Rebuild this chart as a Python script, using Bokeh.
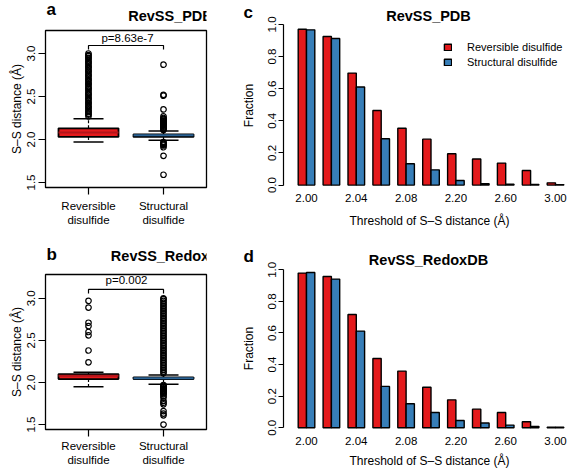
import math
from bokeh.plotting import figure
from bokeh.layouts import row, column
from bokeh.models import ColumnDataSource, Label, Legend, LegendItem, FixedTicker, Range1d
from bokeh.embed import file_html
from bokeh.resources import INLINE

FONT = "Liberation Sans"
RED = "#E41A1C"
BLUE = "#377EB8"
MED_COLORS = ["#B3151A", "#2B6395"]

# ---------------- box plot data ----------------
box_labels = ["Reversible\ndisulfide", "Structural\ndisulfide"]
box_colors = [RED, BLUE]
y_ticks_box = [1.5, 2.0, 2.5, 3.0]
y_tick_labels_box = ["1.5", "2.0", "2.5", "3.0"]

# RevSS_PDB
pdb_q1 = [2.03, 2.03]
pdb_median = [2.08, 2.05]
pdb_q3 = [2.13, 2.06]
pdb_whisker_low = [1.97, 1.99]
pdb_whisker_high = [2.24, 2.10]
pdb_out_rev = [2.27, 2.29, 2.30, 2.32, 2.33, 2.35, 2.37, 2.38, 2.40, 2.42, 2.43, 2.45,
               2.47, 2.48, 2.50, 2.52, 2.53, 2.55, 2.57, 2.59, 2.60, 2.62, 2.64, 2.65,
               2.67, 2.69, 2.70, 2.72, 2.74, 2.75, 2.77, 2.79, 2.80, 2.82, 2.84, 2.85,
               2.87, 2.89, 2.90, 2.92, 2.94, 2.95, 2.97, 2.98, 3.00]
pdb_out_str = [2.87, 2.52, 2.51, 2.35, 2.27, 2.25, 2.24, 2.23, 2.22, 2.21, 2.20, 2.19,
               2.18, 2.17, 2.16, 2.15, 2.14, 2.13, 2.12, 2.11, 1.97, 1.96, 1.95, 1.94,
               1.93, 1.91, 1.81, 1.59]
pdb_pvalue = "p=8.63e-7"
pdb_bracket = [3.047, 3.093]

# RevSS_RedoxDB
redox_q1 = [2.04, 2.04]
redox_median = [2.08, 2.05]
redox_q3 = [2.10, 2.06]
redox_whisker_low = [1.95, 1.98]
redox_whisker_high = [2.12, 2.09]
redox_out_rev = [2.97, 2.89, 2.71, 2.67, 2.60, 2.56, 2.38, 2.24]
redox_out_str = [2.11, 2.13, 2.15, 2.17, 2.19, 2.21, 2.23, 2.25, 2.27, 2.29, 2.31, 2.33,
                 2.35, 2.37, 2.39, 2.41, 2.43, 2.45, 2.47, 2.49, 2.51, 2.53, 2.55, 2.57,
                 2.59, 2.61, 2.63, 2.65, 2.67, 2.69, 2.71, 2.73, 2.75, 2.77, 2.79, 2.81,
                 2.83, 2.85, 2.87, 2.89, 2.91, 2.93, 2.95, 2.97, 2.99, 3.00,
                 1.97, 1.96, 1.95, 1.94, 1.93, 1.92, 1.91, 1.90, 1.89, 1.88, 1.87, 1.86,
                 1.84, 1.82, 1.78, 1.76, 1.74, 1.66, 1.63, 1.61, 1.50]
redox_pvalue = "p=0.002"
redox_bracket = [3.059, 3.106]

# ---------------- bar chart data ----------------
thresholds = ["2.00", "2.02", "2.04", "2.06", "2.08", "2.10", "2.20", "2.40", "2.60", "2.80", "3.00"]
series_names = ["Reversible disulfide", "Structural disulfide"]
pdb_frac_rev = [0.970, 0.925, 0.697, 0.464, 0.354, 0.286, 0.195, 0.162, 0.137, 0.091, 0.014]
pdb_frac_str = [0.966, 0.912, 0.610, 0.288, 0.133, 0.095, 0.029, 0.008, 0.005, 0.004, 0.003]
redox_frac_rev = [0.979, 0.958, 0.717, 0.439, 0.359, 0.257, 0.177, 0.118, 0.097, 0.038, 0.003]
redox_frac_str = [0.983, 0.941, 0.612, 0.262, 0.152, 0.097, 0.046, 0.030, 0.017, 0.008, 0.003]
y_ticks_bar = [0.0, 0.2, 0.4, 0.6, 0.8, 1.0]
y_tick_labels_bar = ["0.0", "0.2", "0.4", "0.6", "0.8", "1.0"]

V = math.pi / 2
YLAB = "S\u2013S distance (\u00c5)"
XLAB = "Threshold of S\u2013S distance (\u00c5)"


def frame_text(p, x, y, text, size, bold=False, align="center", baseline="middle", angle=0.0):
    # x, y: pixels from the frame's left / bottom edge
    p.add_layout(Label(x=x, y=y, x_units="screen", y_units="screen",
                       text=text, text_font=FONT, text_font_size=size,
                       text_font_style="bold" if bold else "normal", text_color="black",
                       text_align=align, text_baseline=baseline, angle=angle))


def style_axes(p):
    p.xgrid.visible = False
    p.ygrid.visible = False
    p.background_fill_color = "white"
    p.border_fill_color = "white"
    for ax in (p.xaxis[0], p.yaxis[0]):
        ax.major_label_text_font = FONT
        ax.major_label_text_color = "black"
        ax.minor_tick_line_color = None
        ax.major_tick_in = 0
        ax.major_tick_line_color = "black"
        ax.major_tick_line_width = 1.2
        ax.axis_line_color = None


def header(width, height, texts):
    p = figure(width=width, height=height, output_backend="svg", toolbar_location=None,
               x_range=Range1d(0, width), y_range=Range1d(0, height),
               x_axis_location=None, y_axis_location=None,
               min_border=0, min_border_left=0, min_border_right=0,
               min_border_top=0, min_border_bottom=0)
    p.xgrid.visible = False
    p.ygrid.visible = False
    p.outline_line_color = None
    p.background_fill_color = "white"
    p.border_fill_color = "white"
    for t in texts:
        frame_text(p, *t)
    return p


def box_body(width, height, borders, y_range, q1, med, q3, wlo, whi, out_rev, out_str,
             bracket, pval_pos, pval, label_standoff):
    left, right, top, bottom = borders
    p = figure(width=width, height=height, output_backend="svg", toolbar_location=None,
               x_range=Range1d(0.4267, 2.573), y_range=Range1d(*y_range),
               min_border_left=left, min_border_right=right, min_border_top=top,
               min_border_bottom=bottom)
    style_axes(p)
    p.outline_line_color = "black"
    p.outline_line_width = 1.3
    cats = [i + 1 for i in range(len(box_labels))]
    src = ColumnDataSource(dict(x=cats, left=[c - 0.4 for c in cats], right=[c + 0.4 for c in cats],
                                capl=[c - 0.2 for c in cats], capr=[c + 0.2 for c in cats],
                                q1=q1, med=med, q3=q3, wlo=wlo, whi=whi,
                                color=box_colors, medcolor=MED_COLORS))
    p.segment(x0="x", y0="q3", x1="x", y1="whi", source=src, line_color="black", line_width=1.2, line_dash="3 2")
    p.segment(x0="x", y0="q1", x1="x", y1="wlo", source=src, line_color="black", line_width=1.2, line_dash="3 2")
    p.segment(x0="capl", y0="whi", x1="capr", y1="whi", source=src, line_color="black", line_width=1.5)
    p.segment(x0="capl", y0="wlo", x1="capr", y1="wlo", source=src, line_color="black", line_width=1.5)
    p.quad(left="left", right="right", bottom="q1", top="q3", source=src,
           fill_color="color", line_color="black", line_width=1.8)
    p.segment(x0="left", y0="med", x1="right", y1="med", source=src, line_color="medcolor", line_width=2)
    p.scatter(x=[cats[0]] * len(out_rev), y=out_rev, marker="circle", size=5.5,
              fill_color=None, line_color="black", line_width=1.2)
    p.scatter(x=[cats[1]] * len(out_str), y=out_str, marker="circle", size=5.5,
              fill_color=None, line_color="black", line_width=1.2)
    p.line(x=[cats[0], cats[0], cats[1], cats[1]], y=[bracket[0], bracket[1], bracket[1], bracket[0]],
           line_color="black", line_width=1.2)
    frame_text(p, pval_pos[0], pval_pos[1], pval, "11.5px")
    p.xaxis.ticker = FixedTicker(ticks=cats)
    p.xaxis.major_label_overrides = {c: lab for c, lab in zip(cats, box_labels)}
    p.xaxis.major_tick_out = 7
    p.xaxis.major_label_standoff = label_standoff
    p.xaxis.major_label_text_font_size = "11.5px"
    p.yaxis.ticker = FixedTicker(ticks=y_ticks_box)
    p.yaxis.major_label_overrides = {t: lab for t, lab in zip(y_ticks_box, y_tick_labels_box)}
    p.yaxis.major_tick_out = 7
    p.yaxis.major_label_standoff = 3
    p.yaxis.major_label_orientation = "vertical"
    p.yaxis.major_label_text_font_size = "11.5px"
    p.yaxis.axis_label = YLAB
    p.yaxis.axis_label_text_font = FONT
    p.yaxis.axis_label_text_font_size = "12px"
    p.yaxis.axis_label_text_font_style = "normal"
    p.yaxis.axis_label_text_color = "black"
    p.yaxis.axis_label_standoff = 1
    return p


def bar_panel(width, height, x_range, y_range, axis_x, rev, strc, origin, texts, legend):
    p = figure(width=width, height=height, output_backend="svg", toolbar_location=None,
               x_range=Range1d(*x_range), y_range=Range1d(*y_range),
               min_border=0, min_border_left=0, min_border_right=0,
               min_border_top=0, min_border_bottom=0)
    style_axes(p)
    p.outline_line_color = None
    n = len(thresholds)
    src = ColumnDataSource(dict(xr=[3 * i + 1.5 for i in range(n)], xs=[3 * i + 2.5 for i in range(n)],
                                rev=rev, strc=strc))
    r1 = p.vbar(x="xr", top="rev", bottom=0, width=1.0, source=src, fill_color=RED,
                line_color="black", line_width=1.4)
    r2 = p.vbar(x="xs", top="strc", bottom=0, width=1.0, source=src, fill_color=BLUE,
                line_color="black", line_width=1.4)
    centers = [3 * i + 2 for i in range(0, n, 2)]
    p.xaxis.fixed_location = 0
    p.xaxis.ticker = FixedTicker(ticks=centers)
    p.xaxis.major_label_overrides = {3 * i + 2: thresholds[i] for i in range(0, n, 2)}
    p.xaxis.major_tick_line_color = None
    p.xaxis.major_tick_out = 0
    p.xaxis.major_label_standoff = 9
    p.xaxis.major_label_text_font_size = "11.5px"
    p.yaxis.fixed_location = axis_x
    p.yaxis.ticker = FixedTicker(ticks=y_ticks_bar)
    p.yaxis.major_label_overrides = {t: lab for t, lab in zip(y_ticks_bar, y_tick_labels_bar)}
    p.yaxis.bounds = (0, 1)
    p.yaxis.axis_line_color = "black"
    p.yaxis.axis_line_width = 1.2
    p.yaxis.major_tick_out = 5
    p.yaxis.major_label_standoff = 2
    p.yaxis.major_label_orientation = "vertical"
    p.yaxis.major_label_text_font_size = "11.5px"
    if legend:
        lg = Legend(items=[LegendItem(label=series_names[0], renderers=[r1]),
                           LegendItem(label=series_names[1], renderers=[r2])],
                    location=(228, 162), padding=0, margin=0, spacing=3,
                    glyph_width=9, glyph_height=8, label_height=12, label_standoff=15,
                    label_text_font=FONT, label_text_font_size="11px", label_text_color="black",
                    border_line_color=None, background_fill_alpha=0)
        p.add_layout(lg)
    ox, oy = origin
    for (px, py, *rest) in texts:
        frame_text(p, px - ox, oy + height - py, *rest)
    return p


# ----- panel a: header (page y 0-29) + body (page y 29-230), frame 45..206 x 30..187
head_a = header(215, 29, [(1, 20, "a", "17px", True, "left", "alphabetic"),
                          (125, 14, "RevSS_PDB", "14.5px", True)])
body_a = box_body(215, 201, (45, 9, 1, 43), (1.4419, 3.2674),
                  pdb_q1, pdb_median, pdb_q3, pdb_whisker_low, pdb_whisker_high,
                  pdb_out_rev, pdb_out_str, pdb_bracket, (82, 150), pdb_pvalue, 5)

# ----- panel b: header (page y 230-273) + body (page y 273-468), frame 45..206 x 274..430
head_b = header(215, 43, [(1, 19, "b", "17px", True, "left", "alphabetic"),
                          (125, 18, "RevSS_RedoxDB", "14.5px", True)])
body_b = box_body(215, 195, (45, 9, 1, 38), (1.4409, 3.2835),
                  redox_q1, redox_median, redox_q3, redox_whisker_low, redox_whisker_high,
                  redox_out_rev, redox_out_str, redox_bracket, (81, 150), redox_pvalue, 3)

pc = bar_panel(352, 230, (-8.964, 33.446), (-0.2825, 1.1487), -0.771, pdb_frac_rev, pdb_frac_str, (215, 0),
               [(243, 12, "c", "17px", True, "left", "alphabetic"),
                (428, 15, "RevSS_PDB", "14.5px", True),
                (248, 105, "Fraction", "12px", False, "center", "middle", V),
                (429, 220, XLAB, "12px")], True)

pd_ = bar_panel(352, 238, (-8.964, 33.446), (-0.2576, 1.2487), -0.771, redox_frac_rev, redox_frac_str, (215, 230),
                [(243, 256, "d", "17px", True, "left", "alphabetic"),
                 (428, 259, "RevSS_RedoxDB", "14.5px", True),
                 (248, 348, "Fraction", "12px", False, "center", "middle", V),
                 (429, 460, XLAB, "12px")], False)

layout = column(row(column(head_a, body_a, spacing=0), pc, spacing=0),
                row(column(head_b, body_b, spacing=0), pd_, spacing=0), spacing=0)
open("out.html", "w").write(file_html(layout, INLINE))
